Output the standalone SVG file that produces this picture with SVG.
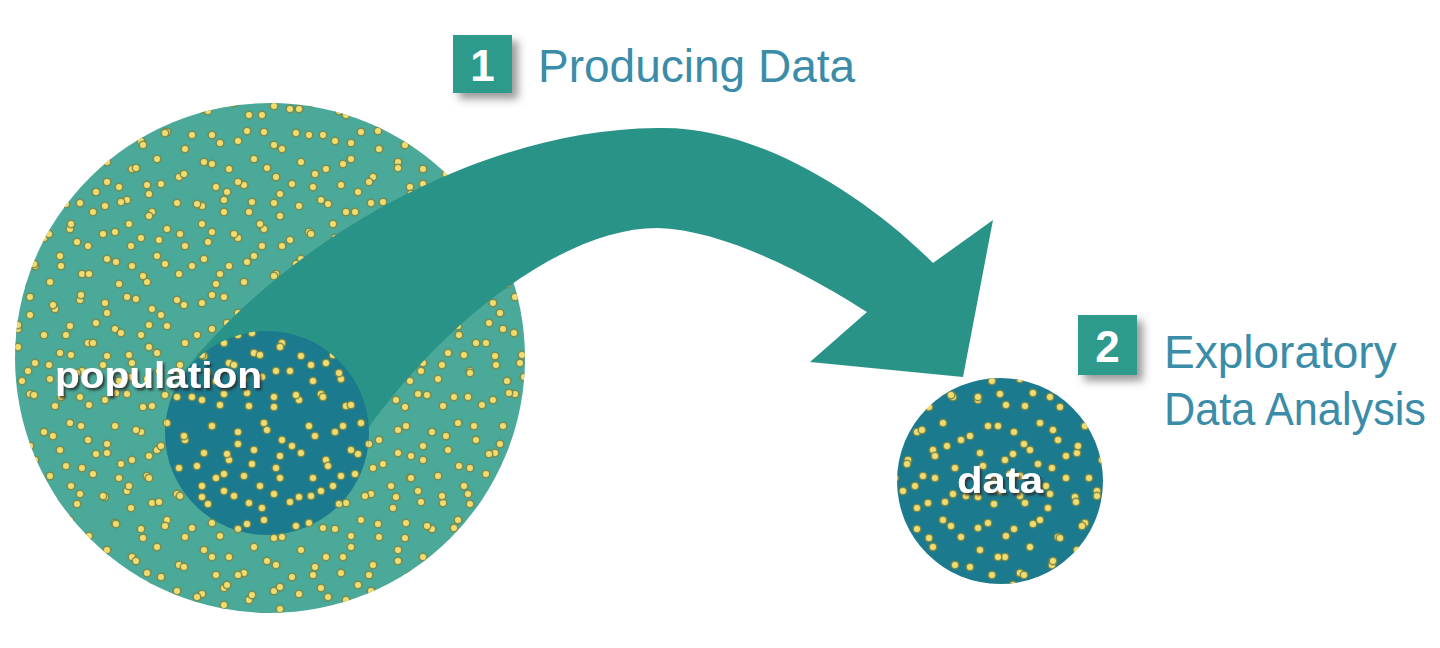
<svg xmlns="http://www.w3.org/2000/svg" width="1440" height="648" viewBox="0 0 1440 648">
  <style>
    .dot{fill:#f1dc70;stroke:#6e7f45;stroke-opacity:.8;stroke-width:1.6}
    .lbl{font-family:"Liberation Sans",Arial,sans-serif;font-weight:bold;fill:#ffffff}
    .step{font-family:"Liberation Sans",Arial,sans-serif;font-size:46px;fill:#3a8ca8}
    .num{font-family:"Liberation Sans",Arial,sans-serif;font-weight:bold;font-size:44px;fill:#ffffff;text-anchor:middle}
    .box{fill:#2e9a8c}
  </style>
  <defs>
    <pattern id="dotsA" width="97" height="97" patternUnits="userSpaceOnUse">
      <circle class="dot" cx="8" cy="12" r="3.8"/><circle class="dot" cx="30" cy="6" r="3.8"/>
      <circle class="dot" cx="55" cy="18" r="3.8"/><circle class="dot" cx="80" cy="9" r="3.8"/>
      <circle class="dot" cx="18" cy="38" r="3.8"/><circle class="dot" cx="44" cy="44" r="3.8"/>
      <circle class="dot" cx="70" cy="35" r="3.8"/><circle class="dot" cx="88" cy="52" r="3.8"/>
      <circle class="dot" cx="10" cy="65" r="3.8"/><circle class="dot" cx="35" cy="72" r="3.8"/>
      <circle class="dot" cx="60" cy="62" r="3.8"/><circle class="dot" cx="82" cy="80" r="3.8"/>
      <circle class="dot" cx="22" cy="90" r="3.8"/><circle class="dot" cx="50" cy="88" r="3.8"/>
    </pattern>
    <pattern id="dotsB" width="131" height="131" patternUnits="userSpaceOnUse" x="41" y="23">
      <circle class="dot" cx="12" cy="20" r="3.8"/><circle class="dot" cx="40" cy="10" r="3.8"/>
      <circle class="dot" cx="66" cy="28" r="3.8"/><circle class="dot" cx="95" cy="14" r="3.8"/>
      <circle class="dot" cx="120" cy="30" r="3.8"/><circle class="dot" cx="25" cy="50" r="3.8"/>
      <circle class="dot" cx="52" cy="58" r="3.8"/><circle class="dot" cx="80" cy="48" r="3.8"/>
      <circle class="dot" cx="108" cy="62" r="3.8"/><circle class="dot" cx="8" cy="80" r="3.8"/>
      <circle class="dot" cx="36" cy="88" r="3.8"/><circle class="dot" cx="62" cy="80" r="3.8"/>
      <circle class="dot" cx="90" cy="92" r="3.8"/><circle class="dot" cx="118" cy="86" r="3.8"/>
      <circle class="dot" cx="20" cy="112" r="3.8"/><circle class="dot" cx="48" cy="120" r="3.8"/>
      <circle class="dot" cx="75" cy="108" r="3.8"/><circle class="dot" cx="102" cy="122" r="3.8"/>
      <circle class="dot" cx="124" cy="110" r="3.8"/><circle class="dot" cx="30" cy="70" r="3.8"/>
      <circle class="dot" cx="88" cy="70" r="3.8"/><circle class="dot" cx="55" cy="38" r="3.8"/>
      <circle class="dot" cx="108" cy="40" r="3.8"/>
    </pattern>
    <filter id="txtShadow" x="-10%" y="-30%" width="130%" height="160%">
      <feDropShadow dx="2" dy="2.5" stdDeviation="1.2" flood-color="#2a2a2a" flood-opacity="0.85"/>
    </filter>
    <filter id="boxShadow" x="-30%" y="-30%" width="160%" height="160%">
      <feDropShadow dx="6" dy="6" stdDeviation="4" flood-color="#555555" flood-opacity="0.6"/>
    </filter>
  </defs>

  <g id="population">
    <circle cx="270" cy="358" r="255" fill="#4aa999"/>
    <circle cx="270" cy="358" r="255" fill="url(#dotsA)"/>
    <circle cx="270" cy="358" r="255" fill="url(#dotsB)"/>
  </g>

  <g id="connectors">
    <path d="M 185,370 C 280,250 470,130 657,128 C 760,125 870,200 933,263 L 993,220 L 963,377 L 810,362 L 867,312 C 820,282 730,230 657,228 C 560,228 430,330 350,455 Z" fill="#2a9388"/>
  </g>

  <g id="sample">
    <circle cx="267" cy="433" r="102" fill="#1b7a8e"/>
    <circle cx="267" cy="433" r="102" fill="url(#dotsA)"/>
    <circle cx="267" cy="433" r="102" fill="url(#dotsB)"/>
  </g>
  <text class="lbl" x="55" y="388" font-size="36" textLength="207" lengthAdjust="spacingAndGlyphs" filter="url(#txtShadow)">population</text>

  <g id="data">
    <circle cx="1000" cy="481" r="103" fill="#1b7a8e"/>
    <circle cx="1000" cy="481" r="103" fill="url(#dotsA)"/>
    <circle cx="1000" cy="481" r="103" fill="url(#dotsB)"/>
    <text class="lbl" x="957" y="493" font-size="36" textLength="86" lengthAdjust="spacingAndGlyphs" filter="url(#txtShadow)">data</text>
  </g>

  <g id="step1">
    <rect class="box" x="453" y="35" width="59" height="58" filter="url(#boxShadow)"/>
    <text class="num" x="482.5" y="81">1</text>
    <text class="step" x="538" y="82">Producing Data</text>
  </g>

  <g id="step2">
    <rect class="box" x="1078" y="315" width="59" height="60" filter="url(#boxShadow)"/>
    <text class="num" x="1107.5" y="362">2</text>
    <text class="step" x="1164" y="368">Exploratory</text>
    <text class="step" x="1164" y="425" font-size="45" textLength="262" lengthAdjust="spacingAndGlyphs">Data Analysis</text>
  </g>
</svg>
